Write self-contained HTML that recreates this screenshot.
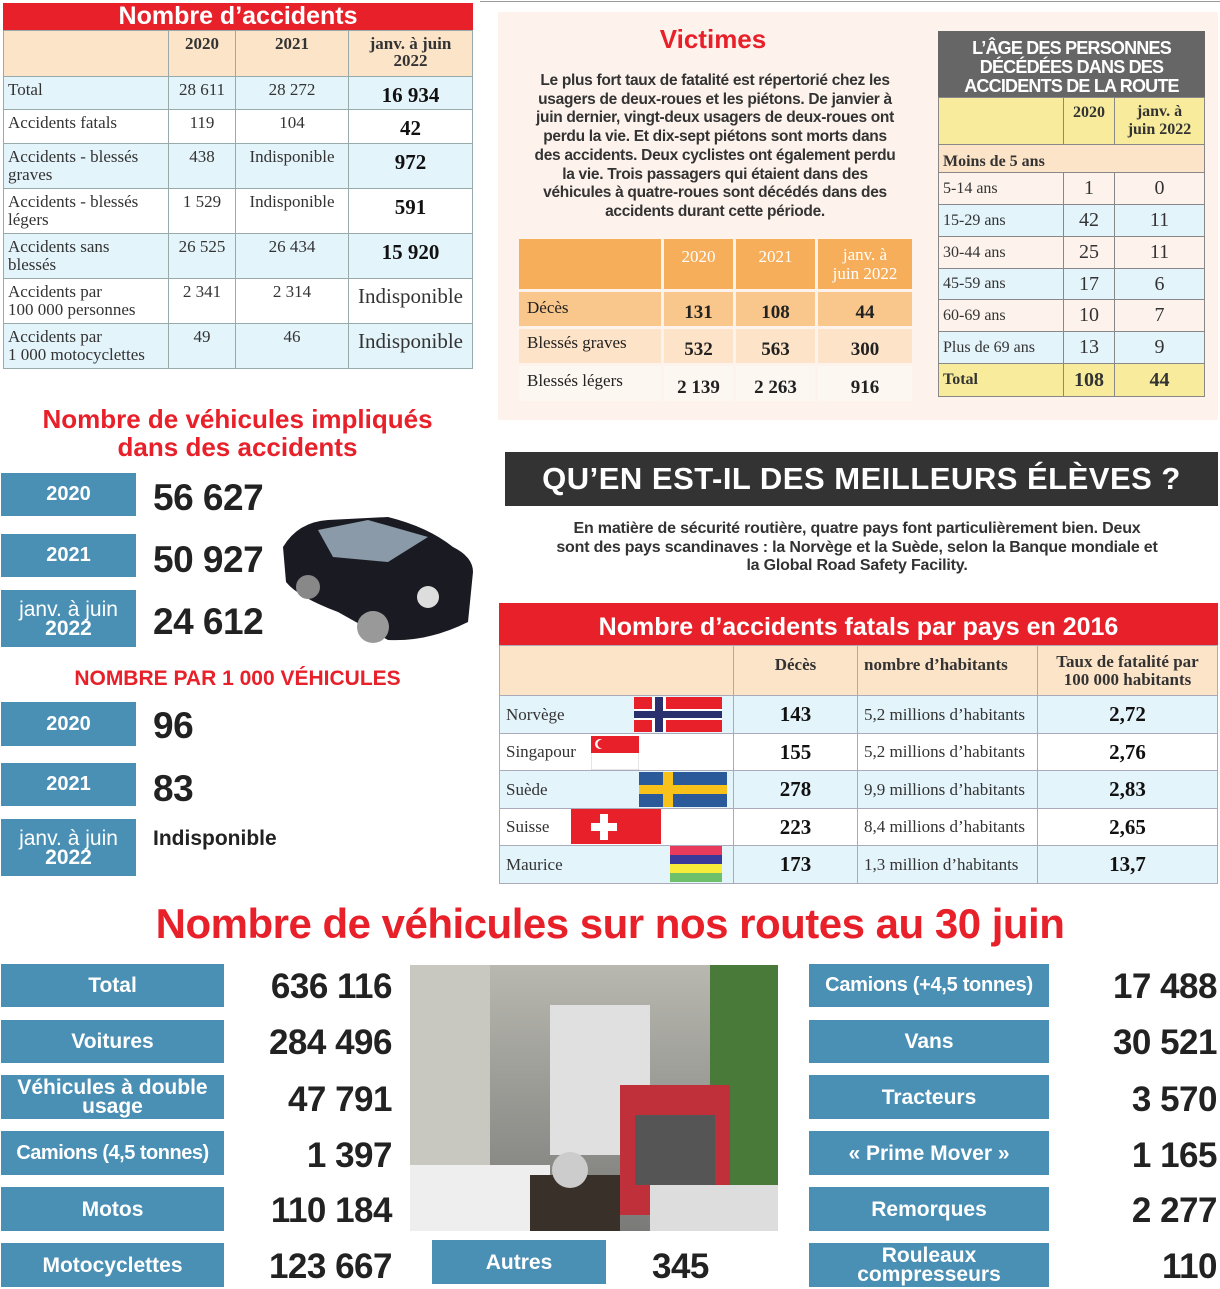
<!DOCTYPE html>
<html><head><meta charset="utf-8"><style>
*{margin:0;padding:0;box-sizing:border-box}
body{width:1220px;height:1289px;position:relative;background:#fff;font-family:"Liberation Sans",sans-serif;overflow:hidden;color:#222}
.a{position:absolute}
table{border-collapse:collapse;position:absolute}
.t1 td{border:1px solid #9aa;font-family:"Liberation Serif",serif;font-size:17px;color:#333;vertical-align:top;line-height:18px;padding:4px 4px 0}
.c{text-align:center}
table td.b{font-weight:bold;font-size:21px;color:#111}
.blu{background:#e4f4fb}
.box{position:absolute;background:#4a90b5;color:#fff;font-weight:bold;display:flex;align-items:center;justify-content:center;text-align:center;line-height:19px}
.num{position:absolute;font-weight:bold;font-size:37px;color:#222;letter-spacing:-0.5px}
.red{color:#e8202a;font-weight:bold;position:absolute;text-align:center}
.vt td{font-family:"Liberation Serif",serif;border:3px solid #fdf3ec;font-size:19px;text-align:center;color:#222;padding:0}
.ag td{border:1px solid #888;font-family:"Liberation Serif",serif;font-size:16px;padding:0 4px;color:#333}
.ft td{border:1px solid #aab;font-family:"Liberation Serif",serif;font-size:17px;color:#333;padding:0 6px;position:relative}
</style></head><body>

<!-- Table 1 -->
<div class="a" style="left:3px;top:3px;width:470px;height:27px;background:#e8202a;color:#fff;font-weight:bold;font-size:25px;text-align:center;line-height:27px">Nombre d’accidents</div>
<table class="t1" style="left:3px;top:30px;width:470px">
<tr style="height:46px;background:#fce4c8"><td style="width:165px"></td><td class="c" style="width:67px;font-weight:bold">2020</td><td class="c" style="width:113px;font-weight:bold">2021</td><td class="c" style="font-weight:bold;line-height:17px">janv. à juin<br>2022</td></tr>
<tr style="height:33px" class="blu"><td>Total</td><td class="c">28 611</td><td class="c">28 272</td><td class="c b" style="padding-top:9px">16 934</td></tr>
<tr style="height:34px"><td>Accidents fatals</td><td class="c">119</td><td class="c">104</td><td class="c b" style="padding-top:9px">42</td></tr>
<tr style="height:45px" class="blu"><td>Accidents - blessés graves</td><td class="c">438</td><td class="c">Indisponible</td><td class="c b" style="padding-top:9px">972</td></tr>
<tr style="height:45px"><td>Accidents - blessés légers</td><td class="c">1 529</td><td class="c">Indisponible</td><td class="c b" style="padding-top:9px">591</td></tr>
<tr style="height:45px" class="blu"><td>Accidents sans<br>blessés</td><td class="c">26 525</td><td class="c">26 434</td><td class="c b" style="padding-top:9px">15 920</td></tr>
<tr style="height:45px"><td>Accidents par<br>100 000 personnes</td><td class="c">2 341</td><td class="c">2 314</td><td class="c" style="font-size:21px;padding-top:8px">Indisponible</td></tr>
<tr style="height:45px" class="blu"><td>Accidents par<br>1 000 motocyclettes</td><td class="c">49</td><td class="c">46</td><td class="c" style="font-size:21px;padding-top:8px">Indisponible</td></tr>
</table>

<div class="a" style="left:480px;top:1px;width:740px;height:1px;background:#999"></div>

<!-- Victimes -->
<div class="a" style="left:498px;top:12px;width:720px;height:408px;background:#fdf3ec"></div>
<div class="red" style="left:600px;top:24px;width:226px;font-size:26px">Victimes</div>
<div class="a" style="left:505px;top:72px;width:420px;text-align:center;font-size:15.5px;line-height:18.7px;font-weight:bold;color:#333;letter-spacing:-0.3px;white-space:nowrap">Le plus fort taux de fatalité est répertorié chez les<br>usagers de deux-roues et les piétons. De janvier à<br>juin dernier, vingt-deux usagers de deux-roues ont<br>perdu la vie. Et dix-sept piétons sont morts dans<br>des accidents. Deux cyclistes ont également perdu<br>la vie. Trois passagers qui étaient dans des<br>véhicules à quatre-roues sont décédés dans des<br>accidents durant cette période.</div>
<table class="vt" style="left:516px;top:236px;width:399px">
<tr style="height:53px;background:#f7ae5a;color:#fff"><td style="width:145px"></td><td style="width:72px;color:#fff;vertical-align:top;padding-top:8px;font-size:17px">2020</td><td style="width:82px;color:#fff;vertical-align:top;padding-top:8px;font-size:17px">2021</td><td style="color:#fff;font-size:17px;line-height:19px">janv. à<br>juin 2022</td></tr>
<tr style="height:37px;background:#f9c68b"><td style="text-align:left;padding-left:8px;font-size:17px;vertical-align:top;padding-top:6px">Décès</td><td style="font-weight:bold;padding-top:8px">131</td><td style="font-weight:bold;padding-top:8px">108</td><td style="font-weight:bold;padding-top:8px">44</td></tr>
<tr style="height:37px;background:#fde3c8"><td style="text-align:left;padding-left:8px;font-size:17px;vertical-align:top;padding-top:4px">Blessés graves</td><td style="font-weight:bold;padding-top:8px">532</td><td style="font-weight:bold;padding-top:8px">563</td><td style="font-weight:bold;padding-top:8px">300</td></tr>
<tr style="height:38px;background:#fdf7f1"><td style="text-align:left;padding-left:8px;font-size:17px;vertical-align:top;padding-top:5px">Blessés légers</td><td style="font-weight:bold;padding-top:8px">2 139</td><td style="font-weight:bold;padding-top:8px">2 263</td><td style="font-weight:bold;padding-top:8px">916</td></tr>
</table>

<!-- Age table -->
<div class="a" style="left:938px;top:31px;width:267px;height:66px;background:#666;color:#fff;font-weight:bold;font-size:18px;line-height:19px;text-align:center;padding-top:8px;letter-spacing:-0.8px">L’ÂGE DES PERSONNES<br>DÉCÉDÉES DANS DES<br>ACCIDENTS DE LA ROUTE</div>
<table class="ag" style="left:938px;top:97px;width:267px">
<tr style="height:47px;background:#f8ec9c"><td style="width:125px"></td><td style="width:51px;text-align:center;vertical-align:top;padding-top:6px;font-weight:bold">2020</td><td style="text-align:center;font-weight:bold;line-height:18px">janv. à<br>juin 2022</td></tr>
<tr style="height:28px;background:#fce4c8"><td colspan="3" style="font-weight:bold;padding-top:6px">Moins de 5 ans</td></tr>
<tr style="height:32px"><td>5-14 ans</td><td class="c" style="font-size:20px">1</td><td class="c" style="font-size:20px">0</td></tr>
<tr style="height:32px" class="blu"><td>15-29 ans</td><td class="c" style="font-size:20px">42</td><td class="c" style="font-size:20px">11</td></tr>
<tr style="height:32px"><td>30-44 ans</td><td class="c" style="font-size:20px">25</td><td class="c" style="font-size:20px">11</td></tr>
<tr style="height:31px" class="blu"><td>45-59 ans</td><td class="c" style="font-size:20px">17</td><td class="c" style="font-size:20px">6</td></tr>
<tr style="height:32px"><td>60-69 ans</td><td class="c" style="font-size:20px">10</td><td class="c" style="font-size:20px">7</td></tr>
<tr style="height:32px" class="blu"><td>Plus de 69 ans</td><td class="c" style="font-size:20px">13</td><td class="c" style="font-size:20px">9</td></tr>
<tr style="height:33px;background:#f8ec9c"><td style="font-weight:bold">Total</td><td class="c" style="font-size:20px;font-weight:bold">108</td><td class="c" style="font-size:20px;font-weight:bold">44</td></tr>
</table>

<!-- Vehicles involved -->
<div class="red" style="left:0;top:405px;width:475px;font-size:26px;line-height:28px">Nombre de véhicules impliqués<br>dans des accidents</div>
<div class="box" style="left:1px;top:473px;width:135px;height:43px;font-size:20px">2020</div>
<div class="box" style="left:1px;top:534px;width:135px;height:43px;font-size:20px">2021</div>
<div class="box" style="left:1px;top:590px;width:135px;height:57px;font-size:21px;line-height:19px"><span><span style="font-weight:normal">janv. à juin</span><br>2022</span></div>
<div class="num" style="left:153px;top:477px">56 627</div>
<div class="num" style="left:153px;top:539px">50 927</div>
<div class="num" style="left:153px;top:601px">24 612</div>
<svg class="a" style="left:278px;top:512px" width="200" height="135" viewBox="0 0 200 135">
<path d="M5,35 Q20,10 50,8 L110,5 Q150,15 175,35 Q195,45 195,60 L190,110 Q150,130 110,128 L60,100 Q20,85 8,70 Z" fill="#1a1a22"/>
<path d="M40,18 L90,8 L150,25 L110,50 L55,45 Z" fill="#8a9aa8"/>
<circle cx="95" cy="115" r="16" fill="#999"/><circle cx="30" cy="75" r="12" fill="#888"/>
<circle cx="150" cy="85" r="11" fill="#ddd"/>
</svg>
<div class="red" style="left:0;top:667px;width:475px;font-size:21px">NOMBRE PAR 1 000 VÉHICULES</div>
<div class="box" style="left:1px;top:702px;width:135px;height:44px;font-size:20px">2020</div>
<div class="box" style="left:1px;top:763px;width:135px;height:43px;font-size:20px">2021</div>
<div class="box" style="left:1px;top:819px;width:135px;height:57px;font-size:21px;line-height:19px"><span><span style="font-weight:normal">janv. à juin</span><br>2022</span></div>
<div class="num" style="left:153px;top:705px">96</div>
<div class="num" style="left:153px;top:768px">83</div>
<div class="a" style="left:153px;top:827px;font-size:21px;font-weight:bold">Indisponible</div>

<!-- Banner -->
<div class="a" style="left:505px;top:452px;width:713px;height:54px;background:#333;color:#fff;font-weight:bold;font-size:31px;line-height:54px;text-align:center;letter-spacing:0.5px">QU’EN EST-IL DES MEILLEURS ÉLÈVES ?</div>
<div class="a" style="left:505px;top:520px;width:704px;text-align:center;font-size:16px;line-height:18.5px;font-weight:bold;color:#333;letter-spacing:-0.2px;white-space:nowrap">En matière de sécurité routière, quatre pays font particulièrement bien. Deux<br>sont des pays scandinaves : la Norvège et la Suède, selon la Banque mondiale et<br>la Global Road Safety Facility.</div>

<!-- Fatal table -->
<div class="a" style="left:499px;top:603px;width:719px;height:42px;background:#e8202a;color:#fff;font-weight:bold;font-size:25px;line-height:48px;text-align:center">Nombre d’accidents fatals par pays en 2016</div>
<table class="ft" style="left:499px;top:645px;width:719px">
<tr style="height:50px;background:#fce4c8;font-weight:bold"><td style="width:234px"></td><td style="width:124px;text-align:center;vertical-align:top;padding-top:9px;font-weight:bold">Décès</td><td style="width:180px;vertical-align:top;padding-top:9px;font-weight:bold">nombre d’habitants</td><td style="text-align:center;font-weight:bold;line-height:18px">Taux de fatalité par<br>100 000 habitants</td></tr>
<tr style="height:38px" class="blu"><td>Norvège</td><td class="c b">143</td><td>5,2 millions d’habitants</td><td class="c b">2,72</td></tr>
<tr style="height:37px"><td>Singapour</td><td class="c b">155</td><td>5,2 millions d’habitants</td><td class="c b">2,76</td></tr>
<tr style="height:38px" class="blu"><td>Suède</td><td class="c b">278</td><td>9,9 millions d’habitants</td><td class="c b">2,83</td></tr>
<tr style="height:37px"><td>Suisse</td><td class="c b">223</td><td>8,4 millions d’habitants</td><td class="c b">2,65</td></tr>
<tr style="height:38px" class="blu"><td>Maurice</td><td class="c b">173</td><td>1,3 million d’habitants</td><td class="c b">13,7</td></tr>
</table>
<!-- flags -->
<svg class="a" style="left:634px;top:697px" width="88" height="35"><rect width="88" height="35" fill="#e8202a"/><rect x="18" width="14" height="35" fill="#fff"/><rect y="12" width="88" height="11" fill="#fff"/><rect x="21" width="8" height="35" fill="#2a2f6e"/><rect y="14" width="88" height="7" fill="#2a2f6e"/></svg>
<svg class="a" style="left:591px;top:736px" width="48" height="34"><rect width="48" height="34" fill="#fff" stroke="#ccc"/><rect width="48" height="17" fill="#e8202a"/><circle cx="9" cy="8" r="5" fill="#fff"/><circle cx="11" cy="8" r="4.5" fill="#e8202a"/></svg>
<svg class="a" style="left:639px;top:772px" width="88" height="35"><rect width="88" height="35" fill="#2a5a9a"/><rect x="24" width="10" height="35" fill="#f8c21a"/><rect y="13" width="88" height="9" fill="#f8c21a"/></svg>
<svg class="a" style="left:571px;top:809px" width="90" height="35"><rect width="90" height="35" fill="#e8202a"/><rect x="20" y="14" width="26" height="8" fill="#fff"/><rect x="29" y="5" width="8" height="26" fill="#fff"/></svg>
<svg class="a" style="left:670px;top:846px" width="52" height="36"><rect width="52" height="9" fill="#e83a5a"/><rect y="9" width="52" height="9" fill="#3a3a9a"/><rect y="18" width="52" height="9" fill="#f8ec3a"/><rect y="27" width="52" height="9" fill="#6ec06a"/></svg>

<!-- Bottom -->
<div class="red" style="left:0;top:900px;width:1220px;font-size:42px;letter-spacing:-0.5px">Nombre de véhicules sur nos routes au 30 juin</div>
<div class="box" style="left:1px;top:964px;width:223px;height:43px;font-size:21px">Total</div>
<div class="box" style="left:1px;top:1020px;width:223px;height:43px;font-size:21px">Voitures</div>
<div class="box" style="left:1px;top:1075px;width:223px;height:44px;font-size:21px;line-height:19px">Véhicules à double usage</div>
<div class="box" style="left:1px;top:1131px;width:223px;height:44px;font-size:20px;letter-spacing:-0.5px">Camions (4,5 tonnes)</div>
<div class="box" style="left:1px;top:1187px;width:223px;height:44px;font-size:21px">Motos</div>
<div class="box" style="left:1px;top:1243px;width:223px;height:44px;font-size:21px">Motocyclettes</div>
<div class="num" style="right:828px;top:967px;font-size:35px">636 116</div>
<div class="num" style="right:828px;top:1023px;font-size:35px">284 496</div>
<div class="num" style="right:828px;top:1080px;font-size:35px">47 791</div>
<div class="num" style="right:828px;top:1136px;font-size:35px">1 397</div>
<div class="num" style="right:828px;top:1191px;font-size:35px">110 184</div>
<div class="num" style="right:828px;top:1247px;font-size:35px">123 667</div>
<svg class="a" style="left:410px;top:965px" width="368" height="266">
<defs><linearGradient id="g" x1="0" y1="0" x2="0" y2="1"><stop offset="0" stop-color="#b8b8b0"/><stop offset="1" stop-color="#7a7a78"/></linearGradient></defs>
<rect width="368" height="266" fill="url(#g)"/>
<rect x="0" width="80" height="266" fill="#c8c8c0"/><rect x="300" width="68" height="266" fill="#4a7a3a"/>
<rect x="140" y="40" width="100" height="150" fill="#e0e0e0"/>
<rect x="210" y="120" width="110" height="130" fill="#c0303a"/><rect x="225" y="150" width="80" height="70" fill="#555"/>
<rect x="0" y="200" width="140" height="66" fill="#eee"/><rect x="240" y="220" width="128" height="46" fill="#ddd"/>
<rect x="120" y="210" width="90" height="56" fill="#3a302a"/><circle cx="160" cy="205" r="18" fill="#ccc"/>
</svg>
<div class="box" style="left:432px;top:1240px;width:174px;height:44px;font-size:21px">Autres</div>
<div class="num" style="left:652px;top:1247px;font-size:35px">345</div>
<div class="box" style="left:809px;top:964px;width:240px;height:43px;font-size:20px;letter-spacing:-0.3px">Camions (+4,5 tonnes)</div>
<div class="box" style="left:809px;top:1020px;width:240px;height:43px;font-size:21px">Vans</div>
<div class="box" style="left:809px;top:1075px;width:240px;height:44px;font-size:21px">Tracteurs</div>
<div class="box" style="left:809px;top:1131px;width:240px;height:44px;font-size:21px">« Prime Mover »</div>
<div class="box" style="left:809px;top:1187px;width:240px;height:44px;font-size:21px">Remorques</div>
<div class="box" style="left:809px;top:1243px;width:240px;height:44px;font-size:21px;line-height:19px">Rouleaux compresseurs</div>
<div class="num" style="right:3px;top:967px;font-size:35px">17 488</div>
<div class="num" style="right:3px;top:1023px;font-size:35px">30 521</div>
<div class="num" style="right:3px;top:1080px;font-size:35px">3 570</div>
<div class="num" style="right:3px;top:1136px;font-size:35px">1 165</div>
<div class="num" style="right:3px;top:1191px;font-size:35px">2 277</div>
<div class="num" style="right:3px;top:1247px;font-size:35px">110</div>
</body></html>
